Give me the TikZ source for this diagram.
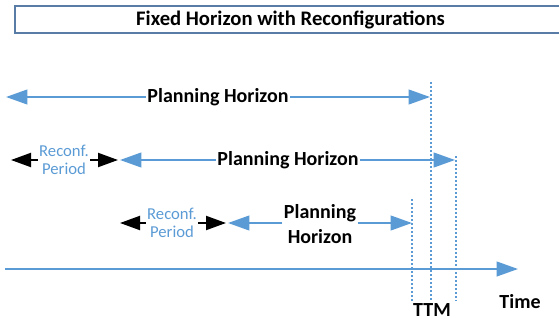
\documentclass[tikz,border=0pt]{standalone}
\usepackage{fontspec}
\setmainfont{Carlito}
\usetikzlibrary{arrows.meta}

\definecolor{horizonblue}{RGB}{91,155,213}
\definecolor{framegray}{RGB}{88,124,166}

\begin{document}
\begin{tikzpicture}[x=0.75pt, y=-0.75pt,
    horizonlabel/.style={font=\fontsize{15}{18.75}\selectfont\bfseries, inner sep=1pt, align=center},
    reconf/.style={font=\fontsize{12.5}{13.5}\selectfont, text=horizonblue, inner sep=1pt, align=center},
    bluearrow/.style={-{Triangle[length=16pt,width=11pt]}, draw=horizonblue, line width=1.5pt},
    blackarrow/.style={-{Triangle[length=15pt,width=10.5pt]}, draw=black, line width=1.5pt},
    guide/.style={draw=horizonblue, line width=1.2pt, dash pattern=on 1.5pt off 1.5pt},
    titlebox/.style={draw=framegray, line width=1.2pt, minimum width=413pt, minimum height=18.75pt,
        font=\fontsize{15.5}{16}\selectfont\bfseries}]
        \clip (0,0) rectangle (559,320);

        % Title
        \node[titlebox] (title) at (290.5,19.5) {Fixed Horizon with Reconfigurations};

        % First planning horizon
        \coordinate (ph1left) at (6,97);
        \coordinate (ph1right) at (430,97);
        \node[horizonlabel] (ph1) at (218,97) {Planning Horizon};
        \draw[bluearrow] (ph1.west) -- (ph1left);
        \draw[bluearrow] (ph1.east) -- (ph1right);

        % Second planning horizon
        \coordinate (rc2left) at (11,160);
        \coordinate (rc2right) at (118,160);
        \coordinate (ph2left) at (120,160);
        \coordinate (ph2right) at (455,160);
        \node[reconf] (rc2) at (64,160) {Reconf.\\Period};
        \node[horizonlabel] (ph2) at (288,160) {Planning Horizon};
        \draw[blackarrow] (rc2.west) -- (rc2left);
        \draw[blackarrow] (rc2.east) -- (rc2right);
        \draw[bluearrow] (ph2.west) -- (ph2left);
        \draw[bluearrow] (ph2.east) -- (ph2right);

        % Third planning horizon
        \coordinate (rc3left) at (120,223);
        \coordinate (rc3right) at (226,223);
        \coordinate (ph3left) at (228,223);
        \coordinate (ph3right) at (412,223);
        \node[reconf] (rc3) at (172,223) {Reconf.\\Period};
        \node[horizonlabel] (ph3) at (320,224) {Planning\\Horizon};
        \draw[blackarrow] (rc3.west) -- (rc3left);
        \draw[blackarrow] (rc3.east) -- (rc3right);
        \draw[bluearrow] (ph3.west |- ph3left) -- (ph3left);
        \draw[bluearrow] (ph3.east |- ph3right) -- (ph3right);

        % Time axis
        \coordinate (axisstart) at (5,269);
        \coordinate (axisend) at (518,269);
        \draw[bluearrow] (axisstart) -- (axisend);
        \node[horizonlabel] (time) at (520,302) {Time};

        % Horizon ends
        \foreach \x/\top in {412/199, 431/82, 456/156}
            \draw[guide] (\x,\top) -- (\x,301);
        \node[horizonlabel] (ttm) at (432,310) {TTM};
    \end{tikzpicture}
\end{document}
